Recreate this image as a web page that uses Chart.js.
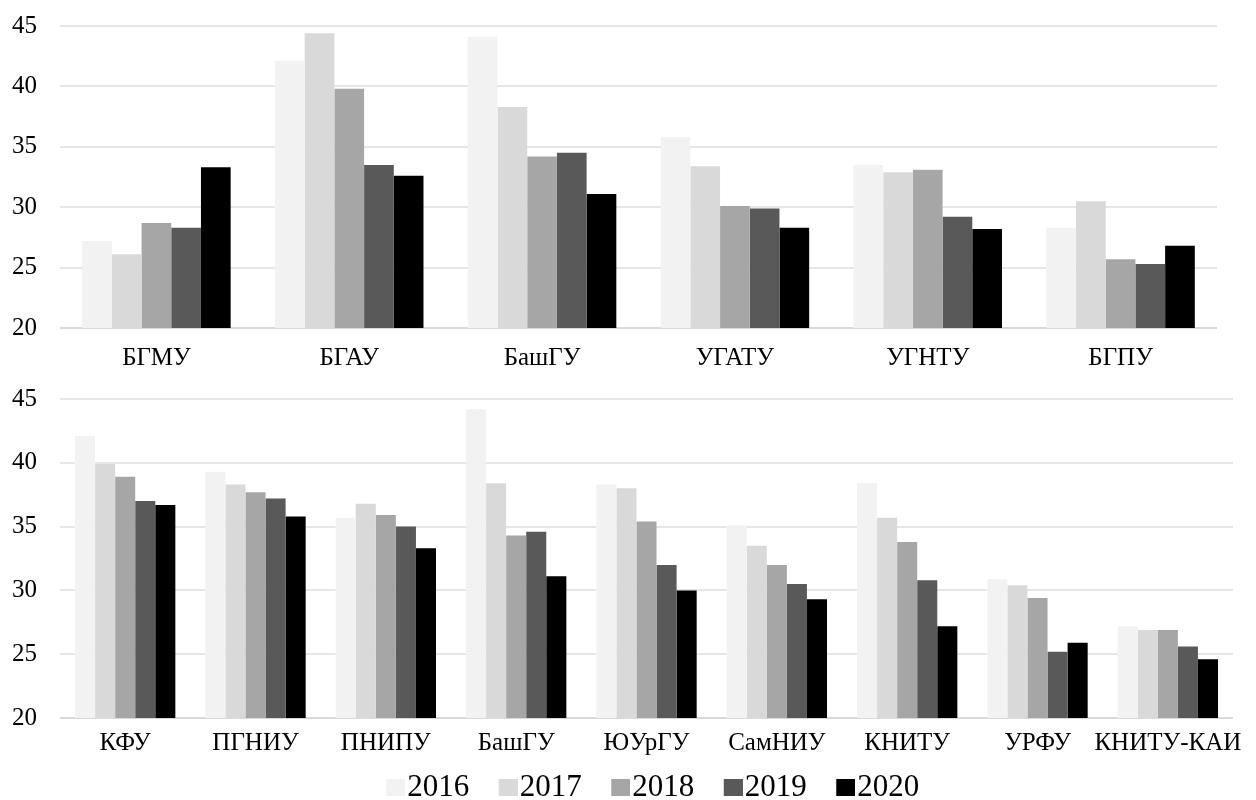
<!DOCTYPE html>
<html>
<head>
<meta charset="utf-8">
<script src="https://cdn.jsdelivr.net/npm/chart.js@4.4.1/dist/chart.umd.min.js"></script>
<style>
  html, body { margin: 0; padding: 0; background: #fff; overflow: hidden; }
  #top { position: absolute; left: 0; top: 0; width: 1256px; height: 375px; }
  #bottom { position: absolute; left: 0; top: 375px; width: 1256px; height: 438px; }
</style>
</head>
<body>
<div id="top"><canvas id="c1"></canvas></div>
<div id="bottom"><canvas id="c2"></canvas></div>
<script>
// ---- Data ----
const years = ['2016', '2017', '2018', '2019', '2020'];

const topCategories = ['БГМУ', 'БГАУ', 'БашГУ', 'УГАТУ', 'УГНТУ', 'БГПУ'];
const top2016 = [27.2, 42.1, 44.1, 35.8, 33.5, 28.3];
const top2017 = [26.1, 44.4, 38.3, 33.4, 32.9, 30.5];
const top2018 = [28.7, 39.8, 34.2, 30.1, 33.1, 25.7];
const top2019 = [28.3, 33.5, 34.5, 29.9, 29.2, 25.3];
const top2020 = [33.3, 32.6, 31.1, 28.3, 28.2, 26.8];

const bottomCategories = ['КФУ', 'ПГНИУ', 'ПНИПУ', 'БашГУ', 'ЮУрГУ', 'СамНИУ', 'КНИТУ', 'УРФУ', 'КНИТУ-КАИ'];
const bottom2016 = [42.1, 39.3, 35.7, 44.2, 38.3, 35.1, 38.4, 30.9, 27.2];
const bottom2017 = [39.9, 38.3, 36.8, 38.4, 38.0, 33.5, 35.7, 30.4, 26.9];
const bottom2018 = [38.9, 37.7, 35.9, 34.3, 35.4, 32.0, 33.8, 29.4, 26.9];
const bottom2019 = [37.0, 37.2, 35.0, 34.6, 32.0, 30.5, 30.8, 25.2, 25.6];
const bottom2020 = [36.7, 35.8, 33.3, 31.1, 30.0, 29.3, 27.2, 25.9, 24.6];

const yTicks = { min: 20, max: 45, step: 5 };

// ---- Styles ----
const colors = ['#f2f2f2', '#d9d9d9', '#a6a6a6', '#595959', '#000000'];
const FONT = '"Liberation Serif", "Times New Roman", serif';

function makeDatasets(series) {
  return series.map((data, i) => ({
    label: years[i],
    data: data,
    backgroundColor: colors[i],
    borderWidth: 0,
    categoryPercentage: 0.77,
    barPercentage: 1.0
  }));
}

function legendSwatch(color) {
  const c = document.createElement('canvas');
  c.width = 45; c.height = 17;
  const g = c.getContext('2d');
  g.fillStyle = color;
  g.fillRect(26, 0, 19, 17);
  return c;
}

function baseOptions(xPad, axisHeight, padding) {
  return {
    responsive: true,
    maintainAspectRatio: false,
    animation: false,
    devicePixelRatio: 1,
    layout: { padding: padding },
    plugins: { legend: { display: false }, tooltip: { enabled: false } },
    scales: {
      x: {
        grid: { display: false, drawTicks: false },
        border: { display: false },
        ticks: { color: '#000', font: { family: FONT, size: 25 }, padding: xPad, maxRotation: 0, autoSkip: false },
        afterFit: (s) => { s.height = axisHeight; s.paddingLeft = 0; s.paddingRight = 0; }
      },
      y: {
        min: yTicks.min, max: yTicks.max,
        grid: {
          drawTicks: false,
          color: (ctx) => (ctx.tick && ctx.tick.value === yTicks.min) ? '#d9d9d9' : '#e6e6e6',
          lineWidth: 2
        },
        border: { display: false },
        ticks: { stepSize: yTicks.step, color: '#000', font: { family: FONT, size: 25 }, padding: 23 },
        afterFit: (s) => { s.width = 60; s.paddingTop = 0; s.paddingBottom = 0; }
      }
    }
  };
}

new Chart(document.getElementById('c1'), {
  type: 'bar',
  data: { labels: topCategories, datasets: makeDatasets([top2016, top2017, top2018, top2019, top2020]) },
  options: baseOptions(15, 47, { top: 26, right: 39, left: 0, bottom: 0 })
});

const opt2 = baseOptions(10, 37, { top: 24, right: 23, left: 0, bottom: 0 });
opt2.plugins.legend = {
  display: true,
  position: 'bottom',
  fullSize: false,
  labels: {
    color: '#000',
    font: { family: FONT, size: 31 },
    boxWidth: 18,
    boxHeight: 17,
    padding: 17,
    usePointStyle: true,
    generateLabels: (chart) => {
      const items = Chart.defaults.plugins.legend.labels.generateLabels(chart);
      items.forEach((it) => { it.pointStyle = legendSwatch(colors[it.datasetIndex]); });
      return items;
    }
  }
};

new Chart(document.getElementById('c2'), {
  type: 'bar',
  data: { labels: bottomCategories, datasets: makeDatasets([bottom2016, bottom2017, bottom2018, bottom2019, bottom2020]) },
  options: opt2
});
</script>
</body>
</html>
